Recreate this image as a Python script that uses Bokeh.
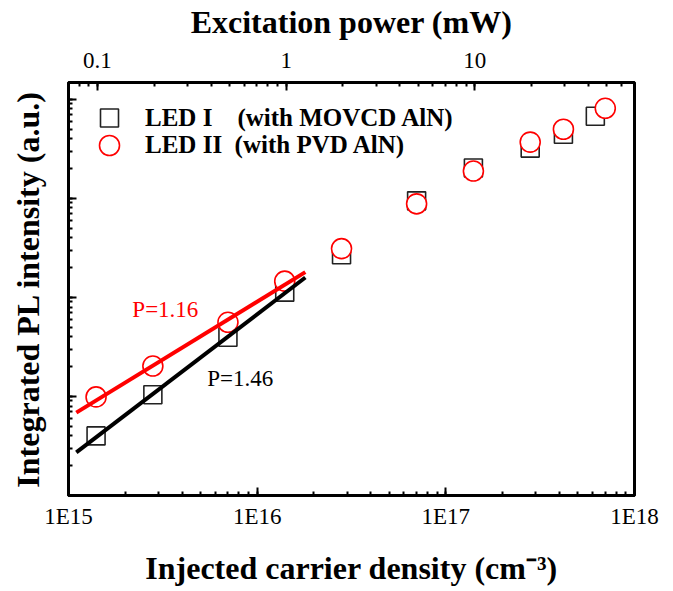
from bokeh.plotting import figure
from bokeh.models import (Range1d, LogScale, LogAxis, LogTicker, CustomJSTickFormatter,
                          Legend, LegendItem, Label)
from bokeh.embed import file_html
from bokeh.resources import INLINE

# ---- data ----
density_led1 = [1.4e15, 2.8e15, 7.0e15, 1.4e16, 2.8e16, 7.0e16, 1.4e17, 2.8e17, 4.2e17, 6.2e17]
pl_led1 = [4.0, 10.4, 39.6, 113, 270, 944, 2030, 3220, 4450, 6750]
density_led2 = [1.4e15, 2.8e15, 7.0e15, 1.4e16, 2.8e16, 7.0e16, 1.4e17, 2.8e17, 4.2e17, 7.0e17]
pl_led2 = [9.9, 20.3, 56.1, 146, 311, 881, 1890, 3700, 4990, 8120]

fit_density = [1.1e15, 1.8e16]
fit_led1 = [2.72, 159]
fit_led2 = [6.87, 180]

density_range = (1e15, 1e18)
pl_range = (1, 14800)
power_range = (0.0702, 70.2)   # mW, top axis

legend_labels = ["LED I\u00a0\u00a0\u00a0 (with MOVCD AlN)", "LED II\u00a0 (with PVD AlN)"]
slope_texts = ["P=1.16", "P=1.46"]
slope_pos_x = [2.18e15, 5.43e15]
slope_pos_y = [76.3, 15.1]

FONT = "Liberation Serif"
RED = "#ff0000"

p = figure(width=673, height=591, x_axis_type="log", y_axis_type="log",
           x_range=Range1d(*density_range), y_range=Range1d(*pl_range),
           output_backend="svg", toolbar_location=None,
           min_border_left=68, min_border_right=39, min_border_top=80, min_border_bottom=96,
           background_fill_color="white", border_fill_color="white")

p.xgrid.visible = False
p.ygrid.visible = False
p.outline_line_color = "black"
p.outline_line_width = 3
p.outline_line_alpha = 1

p.extra_x_ranges = {"power": Range1d(*power_range)}
p.extra_x_scales = {"power": LogScale()}
top_axis = LogAxis(x_range_name="power", ticker=LogTicker(num_minor_ticks=10))
p.add_layout(top_axis, "above")

xa = p.below[0]
ya = p.left[0]

for ax in [xa, ya, top_axis]:
    ax.axis_line_width = 3
    ax.axis_line_color = "black"
    ax.major_tick_in = 8
    ax.major_tick_out = 0
    ax.minor_tick_in = 4
    ax.minor_tick_out = 0
    ax.major_tick_line_width = 2
    ax.minor_tick_line_width = 2
    ax.major_tick_line_color = "black"
    ax.minor_tick_line_color = "black"
    ax.major_label_text_font = FONT
    ax.major_label_text_font_size = "23px"
    ax.major_label_text_color = "black"
    ax.axis_label_text_font = FONT
    ax.axis_label_text_font_style = "bold"
    ax.axis_label_text_font_size = "32px"
    ax.axis_label_text_color = "black"

xa.ticker = LogTicker(num_minor_ticks=10)
ya.ticker = LogTicker(num_minor_ticks=10)

xa.formatter = CustomJSTickFormatter(code="return '1E' + Math.round(Math.log10(tick));")
top_axis.formatter = CustomJSTickFormatter(code="""
const e = Math.round(Math.log10(tick));
return e < 0 ? tick.toFixed(-e) : tick.toFixed(0);
""")
ya.formatter = CustomJSTickFormatter(code="return '';")
ya.major_label_standoff = 0

xa.axis_label = "Injected carrier density (cm\u207b\u00b3)"
xa.major_label_standoff = 8
xa.axis_label_standoff = 18
top_axis.axis_label = "Excitation power (mW)"
top_axis.major_label_standoff = 15
top_axis.axis_label_standoff = 10
ya.axis_label = "Integrated PL intensity (a.u.)"
ya.axis_label_standoff = 23

# ---- data marks ----
r1 = p.scatter(density_led1, pl_led1, marker="square", size=18, line_color="#222222",
               line_width=1.6, fill_color="white")
r2 = p.scatter(density_led2, pl_led2, marker="circle", size=20, line_color=RED,
               line_width=1.6, fill_color="white")
p.line(fit_density, fit_led1, line_color="black", line_width=4)
p.line(fit_density, fit_led2, line_color=RED, line_width=4)

for txt, x, y, c in zip(slope_texts, slope_pos_x, slope_pos_y, [RED, "black"]):
    p.add_layout(Label(x=x, y=y, text=txt, text_font=FONT, text_font_size="23px",
                       text_color=c, text_align="left", text_baseline="alphabetic"))

common = dict(margin=0, padding=0, glyph_width=54, label_standoff=9,
              label_text_font=FONT, label_text_font_style="bold",
              label_text_font_size="25px", label_text_color="black",
              border_line_color=None, background_fill_alpha=0)
leg1 = Legend(items=[LegendItem(label=legend_labels[0], renderers=[r1])],
              location=(14, 355), glyph_height=45, **common)
leg2 = Legend(items=[LegendItem(label=legend_labels[1], renderers=[r2])],
              location=(14, 325), glyph_height=50, **common)
p.add_layout(leg1)
p.add_layout(leg2)

open("out.html", "w").write(file_html(p, INLINE))
